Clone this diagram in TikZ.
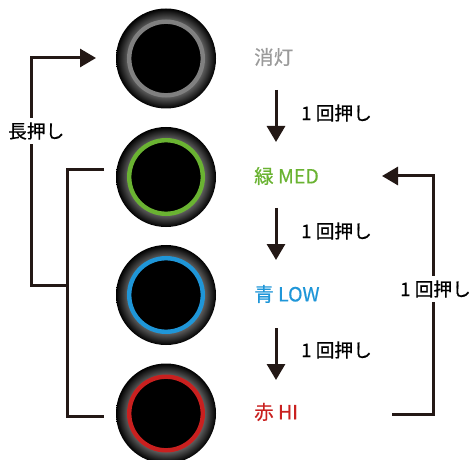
\documentclass[tikz,border=0pt]{standalone}
\usepackage{fontspec}
\setmainfont[FakeBold=0.6]{Noto Sans CJK JP}
\usetikzlibrary{backgrounds,arrows.meta}
\definecolor{linecol}{HTML}{231815}
\definecolor{offcol}{HTML}{9A9A9A}
\definecolor{medcol}{HTML}{6AB332}
\definecolor{lowcol}{HTML}{1F96D8}
\definecolor{hicol}{HTML}{C9201F}
\pgfdeclareradialshading{lampshade}{\pgfpointorigin}{color(0bp)=(black!62); color(19bp)=(black!62); color(25bp)=(black); color(50bp)=(black)}

\begin{document}
\begin{tikzpicture}[x=1bp,y=-1bp]
    % `lamp' is the shaded rim, `ring' the coloured ring with the black face.
    % `state' is used for the names, `press' for the button labels.
    \tikzstyle{lamp} = [circle,shading=lampshade,minimum size=100bp,inner sep=0pt]
    \tikzstyle{ring} = [circle,draw,fill=black,line width=4.4bp,minimum size=73.6bp,inner sep=0pt]
    \tikzstyle{state} = [anchor=west,inner sep=0pt,font=\fontsize{19.5bp}{22bp}\selectfont]
    \tikzstyle{press} = [anchor=west,inner sep=0pt,text=black,font=\fontsize{18.7bp}{22bp}\selectfont]
    \tikzstyle{wire} = [draw=linecol,line width=3bp]
    \tikzstyle{arrow} = [wire,-{Triangle[length=16bp,width=18bp]}]
    \useasboundingbox (0,0) rectangle (472,460);
    %
    % Lamps.
    \node[lamp] (lamp0) at (166,58.5) {};
    \node[ring,draw=black!50] (ring0) at (lamp0) {};
    \node[lamp] (lamp1) at (166,177) {};
    \node[ring,draw=medcol] (ring1) at (lamp1) {};
    \node[lamp] (lamp2) at (166,295) {};
    \node[ring,draw=lowcol] (ring2) at (lamp2) {};
    \node[lamp] (lamp3) at (166,413.5) {};
    \node[ring,draw=hicol] (ring3) at (lamp3) {};
    %
    % State names.
    \node[state,text=offcol] (off) at (254,57) {消灯};
    \node[state,text=medcol] (med) at (254,176) {緑 MED};
    \node[state,text=lowcol] (low) at (254,294) {青 LOW};
    \node[state,text=hicol] (high) at (254,412) {赤 HI};
    %
    % Button labels.
    \node[press] (once0) at (301,113) {1 回押し};
    \node[press] (once1) at (301,231) {1 回押し};
    \node[press] (once2) at (301,350) {1 回押し};
    \node[press,fill=white,inner ysep=4bp] (onceback) at (400,289) {1 回押し};
    \node[press,fill=white,inner ysep=4bp] (longpress) at (8,131) {長押し};
    %
    % Free ends of the connectors.
    \coordinate (start0) at (276,90);
    \coordinate (end0) at (276,142);
    \coordinate (start1) at (276,208);
    \coordinate (end1) at (276,260);
    \coordinate (start2) at (276,328);
    \coordinate (end2) at (276,380);
    \coordinate (medleft) at (104,170);
    \coordinate (hileft) at (104,416);
    \coordinate (offleft) at (96,58);
    \coordinate (join) at (67,285);
    \coordinate (hiright) at (392,414);
    \coordinate (medright) at (382,176);
    %
    \begin{pgfonlayer}{background}
        % Draw lines.
        \draw[wire] (medleft) -| (hileft -| join) -- (hileft);
        \draw[arrow] (join) -| (31,58) -- (offleft);
        \draw[arrow] (hiright) -| (433,176) -- (medright);
    \end{pgfonlayer}
    \draw[arrow] (start0) -- (end0);
    \draw[arrow] (start1) -- (end1);
    \draw[arrow] (start2) -- (end2);
\end{tikzpicture}
\end{document}
